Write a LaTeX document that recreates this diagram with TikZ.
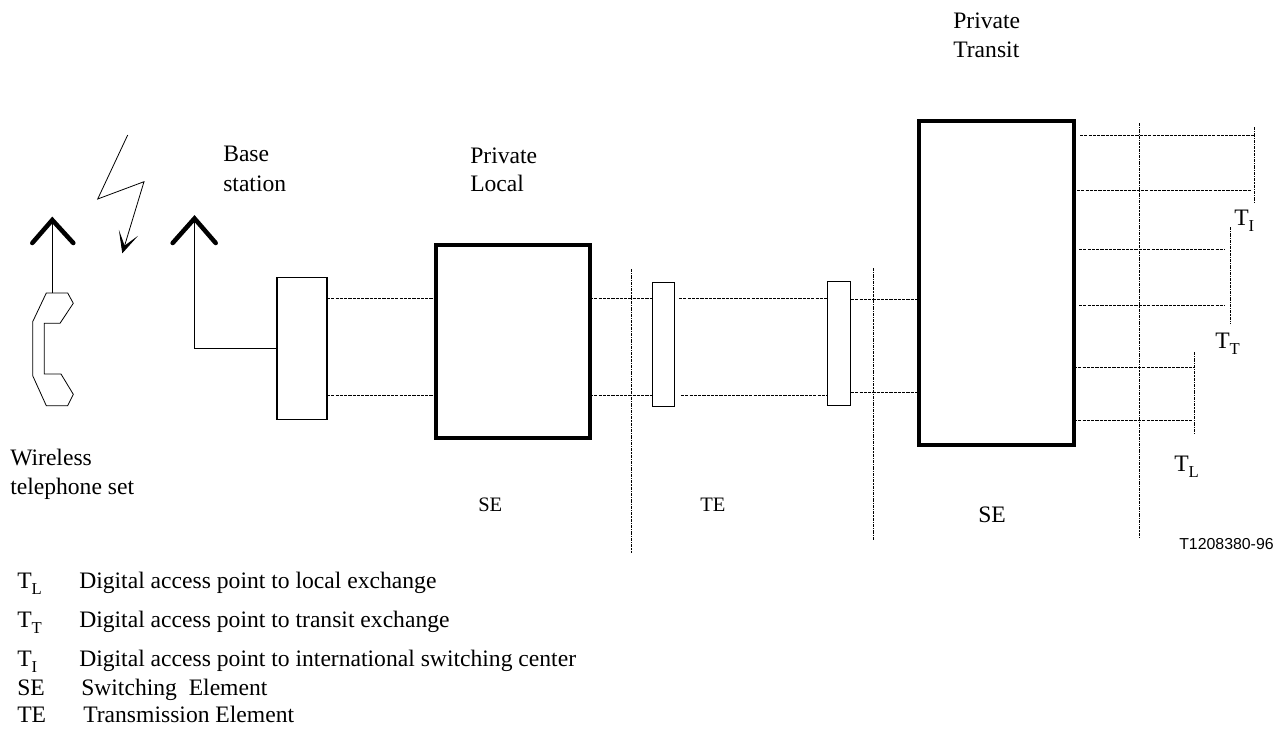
\documentclass[tikz,border=0pt]{standalone}
\usepackage{fontspec}
\setmainfont{Liberation Serif}
\newfontfamily\tagfont{Liberation Sans}
\usetikzlibrary{arrows.meta,positioning}
\tikzset{
    thinbox/.style={draw, line width=0.8pt, fill=white, inner sep=0pt},
    thickbox/.style={draw, line width=3.2pt, fill=white, inner sep=0pt},
    sigline/.style={line width=0.75pt, dash pattern=on 2.4pt off 0.8pt},
    cutline/.style={line width=0.6pt, dash pattern=on 2.4pt off 0.8pt on 0.8pt off 0.8pt},
    mast/.style={line width=3.4pt, line cap=round, line join=miter},
    label/.style={anchor=base west, inner sep=0pt, font=\fontsize{17.7}{20}\selectfont},
    smalllabel/.style={anchor=base west, inner sep=0pt, font=\fontsize{15.4}{18}\selectfont}
}
\newcommand{\tsub}[1]{T\raisebox{-5.2pt}{\fontsize{12.5}{14}\selectfont #1}}
\begin{document}
\begin{tikzpicture}[x=0.75pt,y=-0.75pt]
    \useasboundingbox (0,0) rectangle (1281,728);

    % Boxes
    \node[thinbox, minimum width=37.5pt, minimum height=106pt] (basebox) at (302,348.5) {};
    \node[thickbox, minimum width=115.5pt, minimum height=144.75pt] (localbox) at (513,341.5) {};
    \node[thinbox, minimum width=17pt, minimum height=93.5pt] (lineboxa) at (663.5,344.5) {};
    \node[thinbox, minimum width=17.5pt, minimum height=93.5pt] (lineboxb) at (839,343.5) {};
    \node[thickbox, minimum width=116pt, minimum height=243pt] (transitbox) at (996.5,283) {};

    % Free ends of the lines
    \foreach \n/\x/\y in {b1/327/298, b2/435/298, b3/327/395, b4/435/395,
        l1/590/298, l2/652/298, l3/590/395, l4/652/395,
        m1/679/298, m2/827/298, m3/681/395, m4/828/395,
        n1/851/299, n2/919/299, n3/851/392, n4/919/392,
        i1/1080/135.5, i2/1254/135.5, i3/1077/190, i4/1251/190,
        t1/1079/249, t2/1225/249, t3/1079/305, t4/1225/305,
        e1/1074/367, e2/1195/367, e3/1074/420.5, e4/1193/420.5,
        c1/631/269, c2/631/553, c3/873/268, c4/873/540, c5/1139/123, c6/1139/538,
        v1/1254.7/127, v2/1254.7/203, v3/1230/227, v4/1230/324, v5/1194/352, v6/1194/435}
        \coordinate (\n) at (\x,\y);

    % Lines between the boxes
    \foreach \a/\b in {b1/b2, b3/b4, l1/l2, l3/l4, m1/m2, m3/m4, n1/n2, n3/n4,
        i1/i2, i3/i4, t1/t2, t3/t4, e1/e2, e3/e4}
        \draw[sigline] (\a) -- (\b);

    % Cut lines
    \foreach \a/\b in {c1/c2, c3/c4, c5/c6, v1/v2, v3/v4, v5/v6}
        \draw[cutline] (\a) -- (\b);

    % Handset
    \draw[line width=0.6pt] (46.3,293) -- (67.7,293) -- (73.3,303.3) -- (60,323.3) -- (44.3,323.3)
        -- (44.3,374) -- (61,374) -- (73.3,394.3) -- (67.7,405.7) -- (46.3,405.7)
        -- (32.7,375.7) -- (32.7,321.7) -- cycle;

    % Antennas
    \coordinate (handtop) at (52.3,293);
    \coordinate (handapex) at (52.3,220);
    \coordinate (baseapex) at (194.5,218.5);
    \draw[line width=0.75pt] (handtop) -- (handapex);
    \draw[line width=0.75pt] (baseapex) |- (basebox.west);
    \draw[mast] (32.3,243) -- (handapex) -- (73.3,243);
    \draw[mast] (172.7,243) -- (baseapex) -- (215.7,243);

    % Radio link
    \draw[line width=0.6pt, -{Stealth[width=15pt,length=16pt,inset=10pt]}]
        (127.7,135) -- (97.7,199) -- (144,181.7) -- (122.3,253.3);

    % Labels
    \node[label] (transitone) at (953,28) {Private};
    \node[label] (transittwo) at (953,57) {Transit};
    \node[label] (baseone) at (223,161) {Base};
    \node[label] (basetwo) at (223,191) {station};
    \node[label] (localone) at (470,163) {Private};
    \node[label] (localtwo) at (470,191) {Local};
    \node[label] (wirelessone) at (10,465) {Wireless};
    \node[label] (wirelesstwo) at (10,494) {telephone set};
    \node[smalllabel] (seleft) at (478,511) {SE};
    \node[smalllabel] (temid) at (700,511) {TE};
    \node[label] (seright) at (978,522) {SE};
    \node[label] (tione) at (1234,225) {\tsub{I}};
    \node[label] (ttone) at (1215,348) {\tsub{T}};
    \node[label] (tlone) at (1174,471) {\tsub{L}};
    \node[anchor=base west, inner sep=0pt, font=\tagfont\fontsize{11.9}{14}\selectfont] (figtag) at (1179,549) {T1208380-96};

    % Legend
    \node[label] (keyl) at (17,588) {\tsub{L}};
    \node[label] (keyt) at (17,627) {\tsub{T}};
    \node[label] (keyi) at (17,666) {\tsub{I}};
    \node[label] (keys) at (17,695) {SE};
    \node[label] (keye) at (17,722) {TE};
    \node[label] (textl) at (79,588) {Digital access point to local exchange};
    \node[label] (textt) at (79,627) {Digital access point to transit exchange};
    \node[label] (texti) at (79,666) {Digital access point to international switching center};
    \node[label] (texts) at (81,695) {Switching\ \ Element};
    \node[label] (texte) at (83,722) {Transmission Element};
\end{tikzpicture}
\end{document}
